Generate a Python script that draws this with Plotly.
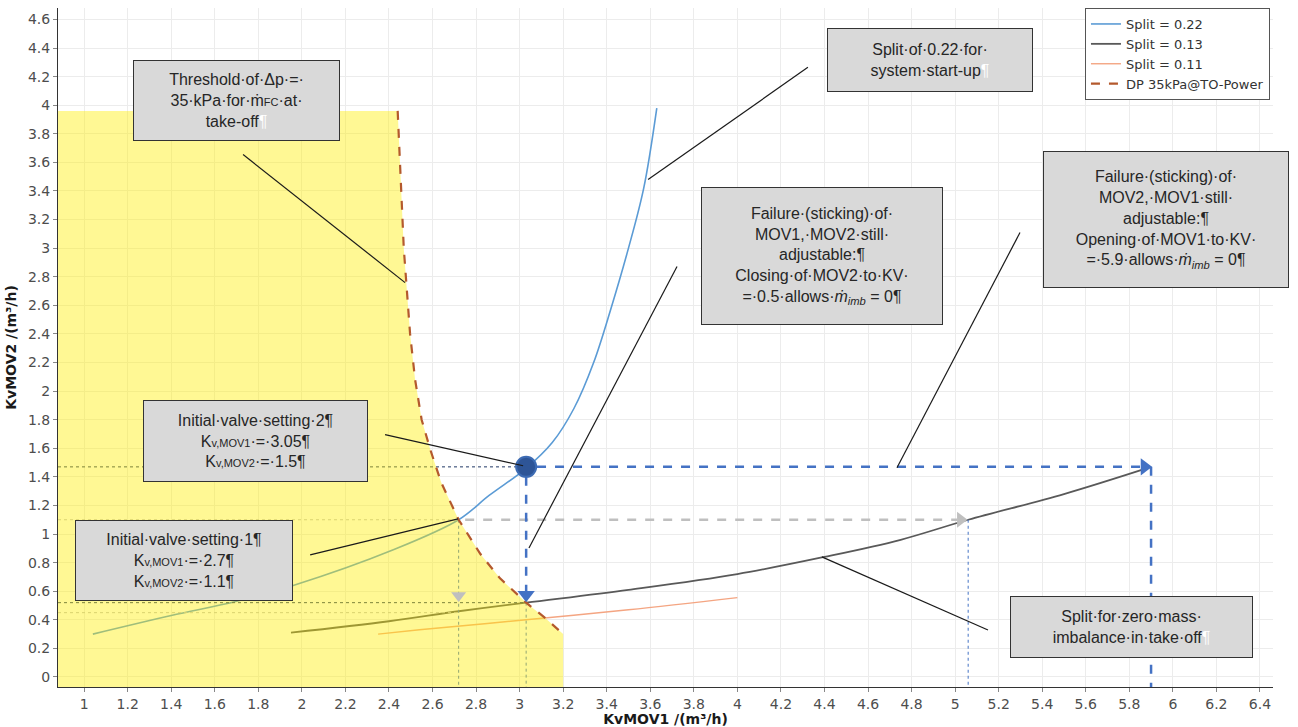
import plotly.graph_objects as go

# Valve-characteristic curves (KvMOV1 vs KvMOV2)
split022_x = [1.04, 1.40, 1.70, 1.96, 2.42, 2.72, 2.86, 3.03, 3.15, 3.25, 3.34, 3.42, 3.50, 3.57, 3.63]
split022_y = [0.30, 0.43, 0.53, 0.64, 0.89, 1.10, 1.27, 1.46, 1.64, 1.88, 2.20, 2.58, 3.00, 3.42, 3.98]

split013_x = [1.95, 2.40, 2.72, 3.03, 3.50, 4.00, 4.40, 4.75, 5.06, 5.50, 5.90]
split013_y = [0.31, 0.39, 0.46, 0.52, 0.61, 0.72, 0.84, 0.96, 1.10, 1.28, 1.47]

split011_x = [2.35, 2.54, 3.03, 3.50, 4.00]
split011_y = [0.30, 0.33, 0.40, 0.47, 0.555]

# Threshold curve: dp = 35 kPa at take-off power
dp35_x = [2.44, 2.455, 2.468, 2.48, 2.497, 2.52, 2.55, 2.59, 2.64, 2.72, 2.82, 2.91, 3.03, 3.12, 3.20]
dp35_y = [3.96, 3.50, 3.00, 2.75, 2.40, 2.08, 1.80, 1.59, 1.36, 1.10, 0.86, 0.69, 0.52, 0.41, 0.30]

# Valve settings
setting1 = (2.72, 1.10)
setting2 = (3.03, 1.47)
mov1_fail_kv2 = 0.52
mov2_fail_kv1 = 5.90
start_kv1 = 5.06
mov2_level_013 = 0.45

x_range = [0.88, 6.46]
y_range = [-0.07, 4.68]

fig = go.Figure()

BLUE = "#5b9bd5"
DBLUE = "#4472c4"
NAVY = "#203864"
LGRAY = "#bfbfbf"

def line(xs, ys, color, width=1, dash="solid", shape="linear"):
    fig.add_trace(go.Scatter(x=xs, y=ys, mode="lines", showlegend=False, hoverinfo="skip",
                             line=dict(color=color, width=width, dash=dash, shape=shape)))

# Curves
fig.add_trace(go.Scatter(x=split022_x, y=split022_y, mode="lines", name="Split = 0.22",
                         line=dict(color=BLUE, width=1.6, shape="spline")))
fig.add_trace(go.Scatter(x=split013_x, y=split013_y, mode="lines", name="Split = 0.13",
                         line=dict(color="#595959", width=1.8, shape="spline")))
fig.add_trace(go.Scatter(x=split011_x, y=split011_y, mode="lines", name="Split = 0.11",
                         line=dict(color="#f4a582", width=1.4, shape="spline")))

# Dotted reference lines
line([x_range[0], setting2[0]], [setting2[1]] * 2, NAVY, 1, "dot")
line([x_range[0], setting1[0]], [setting1[1]] * 2, LGRAY, 1, "dot")
line([x_range[0], setting2[0]], [mov1_fail_kv2] * 2, NAVY, 1, "dot")
line([x_range[0], setting1[0]], [mov2_level_013] * 2, LGRAY, 1, "dot")
line([setting1[0]] * 2, [setting1[1], y_range[0]], DBLUE, 1, "dot")
line([setting2[0]] * 2, [mov1_fail_kv2, y_range[0]], DBLUE, 1, "dot")
line([start_kv1] * 2, [setting1[1], y_range[0]], DBLUE, 1, "dot")

# Gray dashed arrow shaft
line([setting1[0] + 0.03, start_kv1 - 0.05], [setting1[1]] * 2, LGRAY, 2.5, "dash")

# Take-off region (below the dp threshold)
fill_x = [x_range[0] - 0.1, x_range[0] - 0.1, dp35_x[0]] + dp35_x + [dp35_x[-1]]
fill_y = [y_range[0] - 0.1, dp35_y[0], dp35_y[0]] + dp35_y + [y_range[0] - 0.1]
fig.add_trace(go.Scatter(x=fill_x, y=fill_y, mode="lines", fill="toself",
                         fillcolor="rgba(255,238,0,0.42)", line=dict(width=0),
                         showlegend=False, hoverinfo="skip"))

fig.add_trace(go.Scatter(x=dp35_x, y=dp35_y, mode="lines", name="DP 35kPa@TO-Power",
                         line=dict(color="#b4592d", width=2.2, dash="dash")))

# Blue dashed arrows from setting 2
line([setting2[0] + 0.05, mov2_fail_kv1 - 0.04], [setting2[1]] * 2, DBLUE, 2.5, "dash")
line([setting2[0]] * 2, [setting2[1] - 0.07, mov1_fail_kv2 + 0.06], DBLUE, 2.5, "dash")
line([mov2_fail_kv1] * 2, [setting2[1], y_range[0]], DBLUE, 2.5, "dash")

def head(x, y, symbol, color, size):
    fig.add_trace(go.Scatter(x=[x], y=[y], mode="markers", showlegend=False, hoverinfo="skip",
                             marker=dict(symbol=symbol, color=color, size=size, line=dict(width=0))))

head(mov2_fail_kv1 - 0.03, setting2[1], "triangle-right", DBLUE, 15)
head(setting2[0], mov1_fail_kv2 + 0.055, "triangle-down", DBLUE, 15)
head(start_kv1 - 0.035, setting1[1], "triangle-right", LGRAY, 14)
head(setting1[0], mov1_fail_kv2 + 0.05, "triangle-down", LGRAY, 13)

fig.add_trace(go.Scatter(x=[setting2[0]], y=[setting2[1]], mode="markers", showlegend=False,
                         hoverinfo="skip",
                         marker=dict(size=20, color="#2e5597", line=dict(color="#3d6bb3", width=2))))

# Leader lines for the callouts
leaders = [
    ((1.730, 3.655), (2.474, 2.759)),
    ((3.590, 3.480), (4.324, 4.265)),
    ((3.043, 0.903), (3.723, 2.871)),
    ((4.733, 1.464), (5.298, 3.109)),
    ((2.382, 1.695), (3.016, 1.478)),
    ((2.038, 0.854), (2.717, 1.106)),
    ((4.388, 0.840), (5.151, 0.329)),
]
for (x0, y0), (x1, y1) in leaders:
    fig.add_shape(type="line", x0=x0, y0=y0, x1=x1, y1=y1, line=dict(color="#1a1a1a", width=1.2))

WP = "<span style='color:white'>¶</span>"
sub = lambda s: "<span style='font-size:11px'>%s</span>" % s
imb = "<i>ṁ</i><sub><i>imb</i></sub>"

callouts = [
    (1.698, 4.034, 197, 71, "Threshold·of·Δp·=·<br>35·kPa·for·ṁ" + sub("FC") + "·at·<br>take-off" + WP),
    (4.884, 4.314, 196, 54, "Split·of·0.22·for·<br>system·start-up" + WP),
    (4.388, 2.948, 232, 128, "Failure·(sticking)·of·<br>MOV1,·MOV2·still·<br>adjustable:¶<br>"
                             "Closing·of·MOV2·to·KV·<br>=·0.5·allows·" + imb + " = 0¶"),
    (5.968, 3.200, 236, 127, "Failure·(sticking)·of·<br>MOV2,·MOV1·still·<br>adjustable:¶<br>"
                             "Opening·of·MOV1·to·KV·<br>=·5.9·allows·" + imb + " = 0¶"),
    (1.785, 1.653, 215, 72, "Initial·valve·setting·2¶<br>K" + sub("v,MOV1") + "·=·3.05¶<br>K"
                            + sub("v,MOV2") + "·=·1.5¶"),
    (1.459, 0.812, 208, 71, "Initial·valve·setting·1¶<br>K" + sub("v,MOV1") + "·=·2.7¶<br>K"
                            + sub("v,MOV2") + "·=·1.1¶"),
    (5.812, 0.350, 233, 52, "Split·for·zero·mass·<br>imbalance·in·take·off" + WP),
]
for cx, cy, w, h, txt in callouts:
    fig.add_annotation(x=cx, y=cy, xref="x", yref="y", text=txt, showarrow=False,
                       width=w, height=h, align="center", valign="middle",
                       bgcolor="#d9d9d9", bordercolor="#333333", borderwidth=1, borderpad=4,
                       font=dict(family="Liberation Sans", size=16, color="#262626"))

axis_common = dict(
    showgrid=True, gridcolor="#ececec", gridwidth=1, zeroline=False,
    showline=True, linecolor="#333333", linewidth=1, automargin=False,
    ticks="outside", ticklen=4, tickcolor="#888888", dtick=0.2,
    tickfont=dict(family="DejaVu Sans", size=14, color="#4d4d4d"),
)
fig.update_xaxes(range=x_range, tick0=0,
                 title=dict(text="<b>KvMOV1 /(m³/h)</b>", standoff=4,
                            font=dict(family="DejaVu Sans", size=14, color="#1a1a1a")),
                 **axis_common)
fig.update_yaxes(range=y_range, tick0=0,
                 title=dict(text="<b>KvMOV2 /(m³/h)</b>", standoff=8,
                            font=dict(family="DejaVu Sans", size=14, color="#1a1a1a")),
                 **axis_common)

fig.update_layout(
    width=1298, height=727,
    margin=dict(l=58, r=25, t=8, b=40),
    plot_bgcolor="white", paper_bgcolor="white",
    legend=dict(x=0.9975, y=1.0, xanchor="right", yanchor="top", bgcolor="white",
                bordercolor="#555555", borderwidth=1, itemwidth=30, tracegroupgap=0,
                font=dict(family="DejaVu Sans", size=13, color="#333333")),
)

fig.write_html("out.html")
